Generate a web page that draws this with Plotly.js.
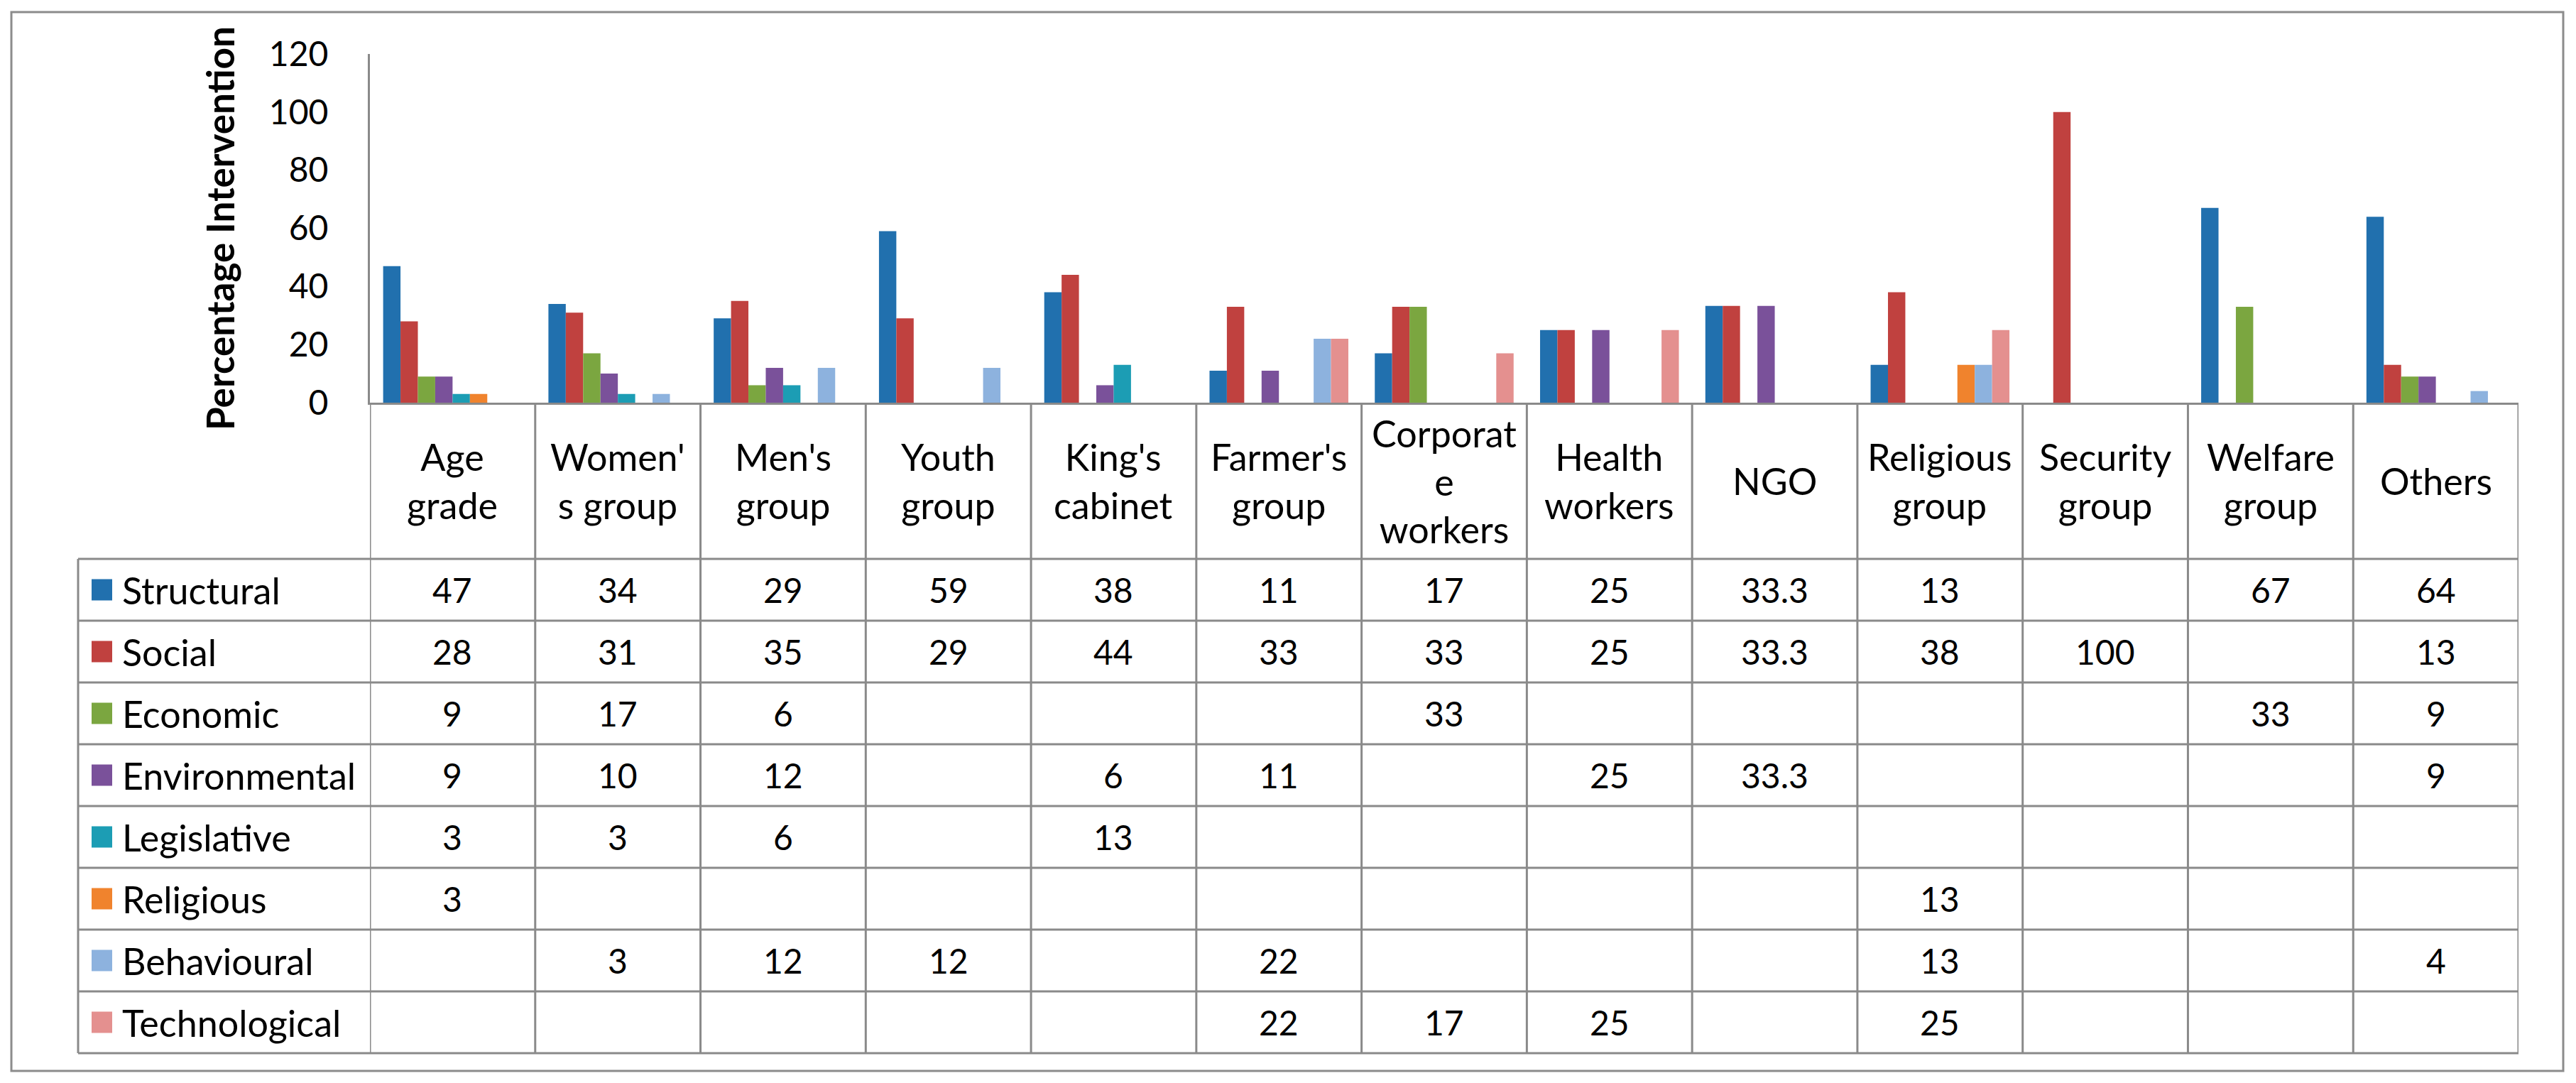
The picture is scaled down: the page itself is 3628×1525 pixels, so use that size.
<!DOCTYPE html>
<html>
<head>
<meta charset="utf-8">
<script src="https://cdn.plot.ly/plotly-3.0.1.min.js"></script>
<style>
  html, body { margin: 0; padding: 0; background: #ffffff; }
  #chart { width: 3628px; height: 1525px; }
</style>
</head>
<body>
<div id="chart"></div>
<script>
// ---------- DATA ----------
const categories = ["Age grade", "Women's group", "Men's group", "Youth group", "King's cabinet",
  "Farmer's group", "Corporate workers", "Health workers", "NGO", "Religious group",
  "Security group", "Welfare group", "Others"];
const categoryLabels = ["Age<br>grade", "Women'<br>s group", "Men's<br>group", "Youth<br>group",
  "King's<br>cabinet", "Farmer's<br>group", "Corporat<br>e<br>workers", "Health<br>workers", "NGO",
  "Religious<br>group", "Security<br>group", "Welfare<br>group", "Others"];

const seriesNames = ["Structural", "Social", "Economic", "Environmental", "Legislative",
  "Religious", "Behavioural", "Technological"];

const structural    = [47, 34, 29, 59, 38, 11, 17, 25, 33.3, 13, null, 67, 64];
const social        = [28, 31, 35, 29, 44, 33, 33, 25, 33.3, 38, 100, null, 13];
const economic      = [9, 17, 6, null, null, null, 33, null, null, null, null, 33, 9];
const environmental = [9, 10, 12, null, 6, 11, null, 25, 33.3, null, null, null, 9];
const legislative   = [3, 3, 6, null, 13, null, null, null, null, null, null, null, null];
const religious     = [3, null, null, null, null, null, null, null, null, 13, null, null, null];
const behavioural   = [null, 3, 12, 12, null, 22, null, null, null, 13, null, null, 4];
const technological = [null, null, null, null, null, 22, 17, 25, null, 25, null, null, null];

const seriesValues = [structural, social, economic, environmental, legislative,
  religious, behavioural, technological];

const yTicks = [0, 20, 40, 60, 80, 100, 120];
const yAxisTitle = "Percentage Intervention";

// ---------- STYLE ----------
const colors = ["#2170AE", "#C0413F", "#7BA640", "#7A519A", "#1C9DB4", "#F0832D", "#8DB2DE", "#E4908F"];
const FONT = "Lato, 'Open Sans', sans-serif";
const FS_TEXT = 52;   // labels
const FS_NUM = 48;    // numbers / ticks
const gridColor = "#8a8a8a";

// geometry (pixels)
const W = 3628, H = 1525;
const L = 521, R = 3547, T = 76, B = 567;
const PW = R - L, PH = B - T;
const px2x = p => (p - L) / PW;
const px2y = p => (B - p) / PH;

const tableLeft = 110;
const headerBottom = 787;
const rowH = 87;
const nRows = seriesNames.length;
const tableBottom = headerBottom + rowH * nRows;

// ---------- TRACES ----------
const traces = seriesNames.map((name, k) => ({
  type: "bar",
  name: name,
  x: categories,
  y: seriesValues[k],
  marker: { color: colors[k], line: { width: 0 } },
  hoverinfo: "x+y+name"
}));

// ---------- SHAPES ----------
const shapes = [];
const lineStyle = { color: gridColor, width: 3 };
// outer border
shapes.push({ type: "rect", xref: "paper", yref: "paper",
  x0: px2x(16), x1: px2x(3610), y0: px2y(1508), y1: px2y(17),
  line: { color: "#8c8c8c", width: 3 }, fillcolor: "rgba(0,0,0,0)", layer: "below" });
// vertical category lines (including y-axis continuation)
for (let i = 0; i <= categories.length; i++) {
  shapes.push({ type: "line", xref: "x", yref: "paper",
    x0: i - 0.5, x1: i - 0.5, y0: px2y(B), y1: px2y(tableBottom), line: lineStyle });
}
// legend column left line
shapes.push({ type: "line", xref: "paper", yref: "paper",
  x0: px2x(tableLeft), x1: px2x(tableLeft), y0: px2y(headerBottom), y1: px2y(tableBottom), line: lineStyle });
// horizontal row lines
for (let r = 0; r <= nRows; r++) {
  const yy = px2y(headerBottom + r * rowH);
  shapes.push({ type: "line", xref: "paper", yref: "paper",
    x0: px2x(tableLeft), x1: 1, y0: yy, y1: yy, line: lineStyle });
}
// legend keys
for (let r = 0; r < nRows; r++) {
  const cy = headerBottom + r * rowH + rowH / 2;
  shapes.push({ type: "rect", xref: "paper", yref: "paper",
    x0: px2x(129), x1: px2x(158), y0: px2y(cy + 15), y1: px2y(cy - 15),
    line: { width: 0 }, fillcolor: colors[r] });
}

// ---------- ANNOTATIONS ----------
const annotations = [];
// header labels
categoryLabels.forEach((lab, i) => {
  annotations.push({ xref: "x", yref: "paper", x: i, y: px2y((B + headerBottom) / 2),
    text: lab, showarrow: false, xanchor: "center", yanchor: "middle", align: "center",
    font: { family: FONT, size: FS_TEXT, color: "#000" } });
});
// legend names + values
for (let r = 0; r < nRows; r++) {
  const cy = headerBottom + r * rowH + rowH / 2;
  annotations.push({ xref: "paper", yref: "paper", x: px2x(170), y: px2y(cy),
    text: seriesNames[r], showarrow: false, xanchor: "left", yanchor: "middle",
    font: { family: FONT, size: FS_TEXT, color: "#000" } });
  seriesValues[r].forEach((v, i) => {
    if (v === null) return;
    annotations.push({ xref: "x", yref: "paper", x: i, y: px2y(cy),
      text: String(v), showarrow: false, xanchor: "center", yanchor: "middle",
      font: { family: FONT, size: FS_NUM, color: "#000" } });
  });
}

const layout = {
  width: W, height: H,
  margin: { l: L, r: W - R, t: T, b: H - B, pad: 0 },
  paper_bgcolor: "#ffffff",
  plot_bgcolor: "#ffffff",
  showlegend: false,
  barmode: "group",
  bargap: 0.16,
  bargroupgap: 0,
  font: { family: FONT, size: FS_NUM, color: "#000" },
  xaxis: {
    type: "category",
    range: [-0.5, categories.length - 0.5],
    showticklabels: false,
    ticks: "",
    showgrid: false,
    zeroline: false,
    showline: true,
    linecolor: gridColor,
    linewidth: 3,
    fixedrange: true
  },
  yaxis: {
    range: [0, 120],
    tickvals: yTicks,
    ticktext: yTicks.map(String),
    ticks: "",
    ticklabelstandoff: 46,
    showgrid: false,
    zeroline: false,
    showline: true,
    linecolor: gridColor,
    linewidth: 3,
    tickfont: { family: FONT, size: FS_NUM, color: "#000" },
    title: { text: yAxisTitle, standoff: 32,
      font: { family: FONT, size: 53, color: "#000", weight: "bold" } },
    automargin: false,
    fixedrange: true
  },
  shapes: shapes,
  annotations: annotations
};

Plotly.newPlot("chart", traces, layout, { displayModeBar: false, staticPlot: true });
</script>
</body>
</html>
